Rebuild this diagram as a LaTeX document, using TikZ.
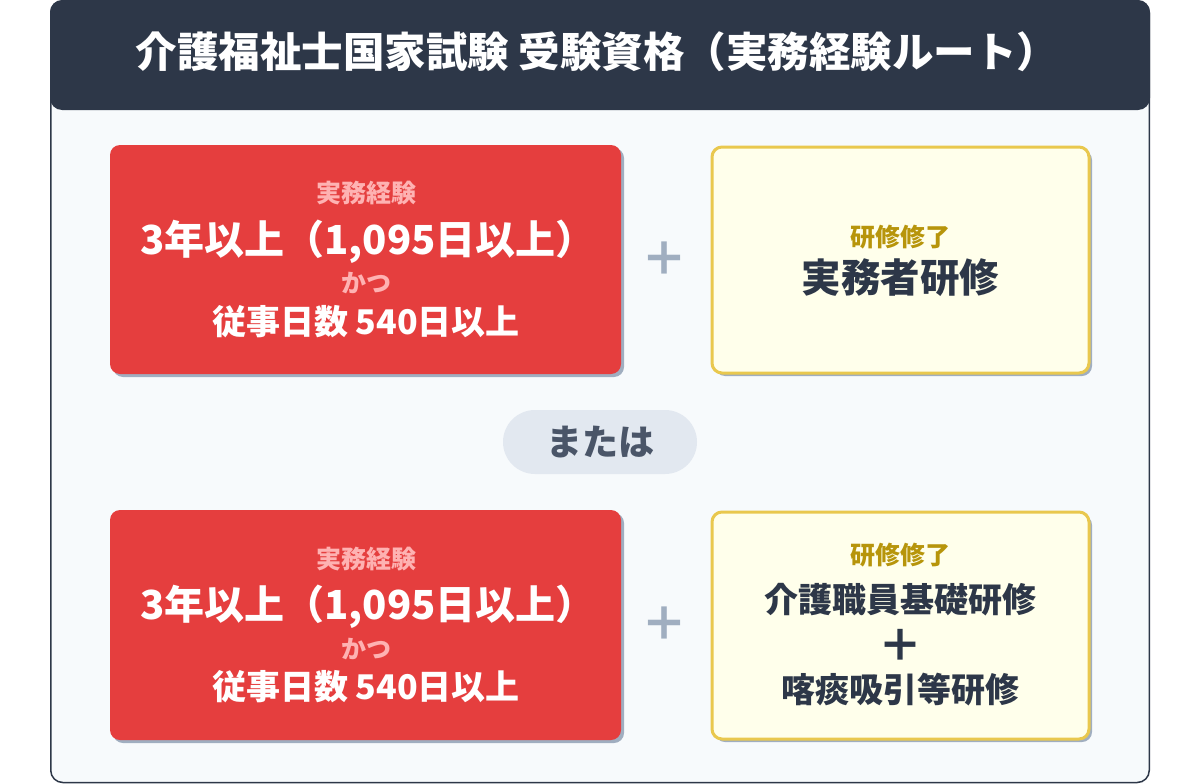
\documentclass[tikz,border=0pt]{standalone}
\usepackage{fontspec}
\setmainfont{Noto Sans CJK JP}
\definecolor{navy}{HTML}{2D3748}
\definecolor{framebg}{HTML}{F7FAFC}
\definecolor{redbox}{HTML}{E53E3E}
\definecolor{pinktxt}{HTML}{FEB2B2}
\definecolor{yelfill}{HTML}{FFFFEB}
\definecolor{yelline}{HTML}{E9C84E}
\definecolor{goldtxt}{HTML}{B7950B}
\definecolor{shadowc}{HTML}{A0AEC0}
\definecolor{pillbg}{HTML}{E2E8F0}
\definecolor{pilltxt}{HTML}{4A5568}
\definecolor{plusc}{HTML}{A0AEC0}
\tikzset{
  sz/.style={font=\fontsize{#1}{#1}\selectfont\bfseries},
  txt/.style={inner sep=0pt, anchor=center},
  redrect/.style={fill=redbox, rounded corners=10pt},
  yelrect/.style={fill=yelfill, draw=yelline, line width=3pt, rounded corners=10pt},
  shadowrect/.style={fill=shadowc, rounded corners=10pt},
}
\begin{document}
\begin{tikzpicture}[x=1pt,y=-1pt]
\useasboundingbox (0,0) rectangle (1200,784);
\fill[white] (0,0) rectangle (1200,784);
% outer frame
\draw[navy, line width=1.5pt, fill=framebg, rounded corners=12pt] (50.75,1) rectangle (1149.25,782.5);
% header
\fill[navy, rounded corners=12pt] (50,0) rectangle (1150,110);
\node[txt, sz=41.5, text=white] (title) at (597,52) {介護福祉士国家試験 受験資格（実務経験ルート）};

% row 1
\fill[shadowrect] (113,148) rectangle (624,377);
\fill[redrect] (110,145) rectangle (621,374);
\node[txt, sz=25, text=pinktxt] (r1a) at (366,193) {実務経験};
\node[txt, sz=40, text=white] (r1b) at (368,242) {3年以上（1,095日以上）};
\node[txt, sz=25, text=pinktxt] (r1c) at (366,283) {かつ};
\node[txt, sz=34, text=white] (r1d) at (366,322) {従事日数 540日以上};

\node[txt, sz=46, text=plusc] (p1) at (664.5,259) {＋};

\fill[shadowrect] (715,150) rectangle (1092,376);
\draw[yelrect] (712,147) rectangle (1089,373);
\node[txt, sz=25, text=goldtxt] (y1a) at (900.5,237) {研修修了};
\node[txt, sz=39.5, text=navy] (y1b) at (900.5,278) {実務者研修};

% or pill
\fill[pillbg, rounded corners=32pt] (503,410) rectangle (697,474);
\node[txt, sz=36, text=pilltxt] (or) at (600,442) {または};

% row 2
\fill[shadowrect] (113,513) rectangle (624,743);
\fill[redrect] (110,510) rectangle (621,740);
\node[txt, sz=25, text=pinktxt] (r2a) at (366,559) {実務経験};
\node[txt, sz=40, text=white] (r2b) at (368,607) {3年以上（1,095日以上）};
\node[txt, sz=25, text=pinktxt] (r2c) at (366,649) {かつ};
\node[txt, sz=34, text=white] (r2d) at (366,687) {従事日数 540日以上};

\node[txt, sz=46, text=plusc] (p2) at (664.5,624) {＋};

\fill[shadowrect] (715,515) rectangle (1092,742);
\draw[yelrect] (712,512) rectangle (1089,739);
\node[txt, sz=25, text=goldtxt] (y2a) at (900.5,555) {研修修了};
\node[txt, sz=34, text=navy] (y2b) at (900.5,600) {介護職員基礎研修};
\node[txt, sz=44, text=navy] (y2c) at (900.5,645) {＋};
\node[txt, sz=34, text=navy] (y2d) at (900.5,690) {喀痰吸引等研修};
\end{tikzpicture}
\end{document}
